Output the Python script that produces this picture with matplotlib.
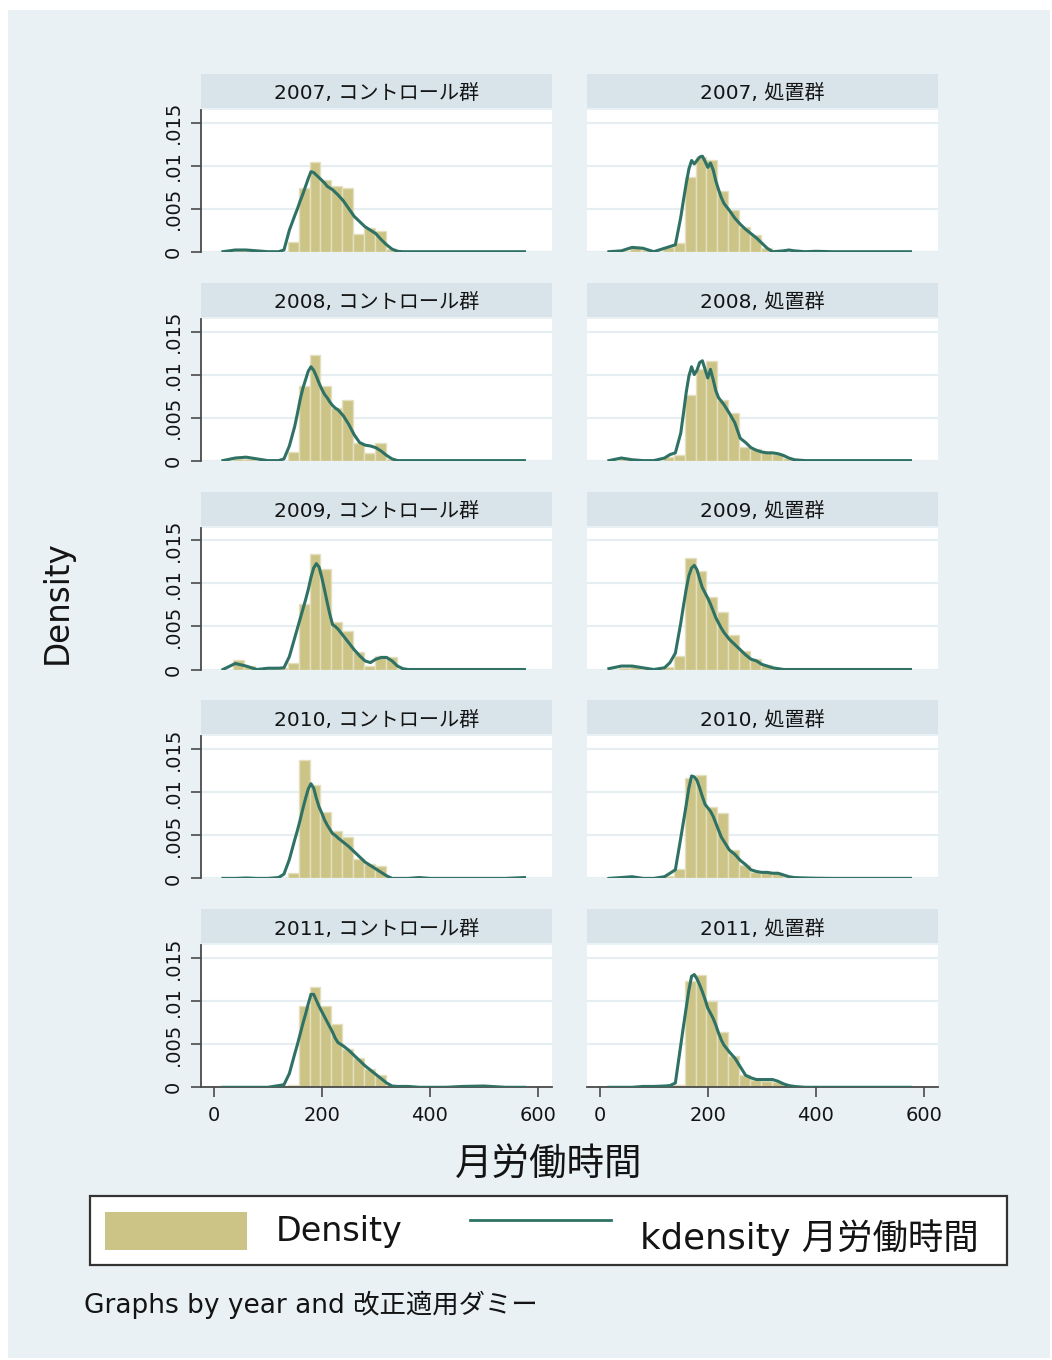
import numpy as np
import matplotlib
matplotlib.use("Agg")
import matplotlib.pyplot as plt
from matplotlib.patches import Rectangle
from matplotlib.lines import Line2D

plt.rcParams['font.family'] = ['DejaVu Sans', 'Noto Sans CJK JP']

# ---------------- data ----------------
years = [2007, 2008, 2009, 2010, 2011]
groups = ['コントロール群', '処置群']
x_ticks = [0, 200, 400, 600]
y_ticks = [0, 0.005, 0.01, 0.015]
y_ticklabels = ['0', '.005', '.01', '.015']

bin_start = 15.8      # first histogram bin edge (hours)
bin_width = 20.2      # histogram bin width (hours)
DENSITY_SCALE = 0.001  # all densities below are written in thousandths

# kernel density evaluation points (hours)
kd_x = [17, 40, 60, 80, 100, 120, 130, 140,
        150, 155, 160, 165, 170, 175, 180, 185, 190, 195, 200, 205, 210, 215, 220, 225, 230,
        240, 250, 260, 270, 280, 290, 300, 310, 320, 330, 340, 350, 360,
        380, 400, 430, 460, 500, 540, 575]

kd_2007_ctrl = [0, 0.2, 0.2, 0.1, 0, 0, 0.2, 2.5,
                4.2, 5.0, 5.9, 6.7, 7.6, 8.5, 9.3, 9.2, 8.9, 8.6, 8.3, 8.0, 7.6, 7.4, 7.2, 6.9, 6.6,
                5.9, 5.0, 4.1, 3.5, 2.9, 2.5, 2.1, 1.4, 0.8, 0.3, 0.05, 0, 0,
                0, 0, 0, 0, 0, 0, 0]
kd_2007_trt = [0, 0.1, 0.5, 0.4, 0, 0.4, 0.6, 0.8,
               4.0, 6.0, 7.9, 9.6, 10.6, 10.2, 10.6, 11.0, 11.1, 10.5, 9.8, 10.3, 9.5, 8.2, 7.2, 6.3, 5.6,
               4.8, 3.9, 3.2, 2.6, 2.1, 1.6, 1.0, 0.4, 0, 0.05, 0.1, 0.2, 0.1,
               0, 0.05, 0, 0, 0, 0, 0]
kd_2008_ctrl = [0, 0.3, 0.4, 0.2, 0, 0, 0.2, 1.7,
                4.0, 5.5, 7.1, 8.4, 9.4, 10.4, 10.9, 10.5, 9.8, 9.0, 8.3, 7.7, 7.3, 6.8, 6.4, 6.1, 5.9,
                5.2, 4.2, 3.0, 2.1, 1.8, 1.7, 1.5, 1.1, 0.6, 0.2, 0, 0, 0,
                0, 0, 0, 0, 0, 0, 0]
kd_2008_trt = [0, 0.3, 0.1, 0, 0, 0.3, 0.7, 0.9,
               3.2, 5.5, 7.9, 9.8, 10.9, 10.0, 10.5, 11.4, 11.6, 10.6, 9.6, 10.6, 9.4, 8.1, 7.3, 6.9, 6.5,
               5.5, 4.4, 2.6, 2.1, 1.5, 1.2, 1.0, 0.9, 0.9, 0.8, 0.6, 0.3, 0.1,
               0, 0, 0, 0, 0, 0, 0]
kd_2009_ctrl = [0, 0.7, 0.4, 0, 0.15, 0.15, 0.2, 1.5,
                3.7, 4.8, 5.9, 7.0, 8.1, 9.3, 10.7, 11.8, 12.3, 11.9, 10.7, 9.3, 7.8, 6.4, 5.2, 5.0, 4.7,
                3.9, 3.1, 2.3, 1.6, 1.0, 0.8, 1.2, 1.4, 1.4, 1.0, 0.4, 0.1, 0,
                0, 0, 0, 0, 0, 0, 0]
kd_2009_trt = [0.1, 0.4, 0.4, 0.2, 0, 0.2, 0.8, 1.9,
               5.4, 7.4, 9.3, 10.9, 11.8, 12.1, 11.6, 10.5, 9.5, 8.9, 8.3, 7.6, 6.8, 6.0, 5.4, 4.8, 4.3,
               3.5, 2.9, 2.3, 1.7, 1.2, 1.0, 0.6, 0.4, 0.2, 0.1, 0, 0, 0,
               0, 0, 0, 0, 0, 0, 0]
kd_2010_ctrl = [0, 0, 0.05, 0, 0, 0.1, 0.5, 2.2,
                4.5, 5.6, 6.8, 8.1, 9.3, 10.4, 11.0, 10.5, 9.3, 8.3, 7.6, 6.8, 6.2, 5.7, 5.2, 5.0, 4.7,
                4.2, 3.7, 3.1, 2.5, 1.9, 1.5, 1.1, 0.7, 0.3, 0, 0, 0, 0,
                0.1, 0, 0, 0, 0, 0, 0.1]
kd_2010_trt = [0, 0.1, 0.2, 0, 0, 0.2, 0.6, 1.0,
               4.7, 6.6, 8.5, 10.5, 11.9, 11.8, 11.4, 10.5, 9.5, 8.6, 8.2, 7.8, 7.2, 6.4, 5.6, 4.8, 4.3,
               3.3, 2.8, 2.1, 1.6, 1.0, 0.8, 0.7, 0.7, 0.6, 0.6, 0.4, 0.2, 0.1,
               0.05, 0.02, 0, 0, 0, 0, 0]
kd_2011_ctrl = [0, 0, 0, 0, 0, 0.2, 0.3, 1.6,
                3.9, 5.0, 6.2, 7.4, 8.5, 9.7, 10.8, 10.8, 10.1, 9.4, 8.8, 8.2, 7.6, 7.0, 6.4, 5.7, 5.2,
                4.8, 4.3, 3.7, 3.1, 2.5, 2.0, 1.5, 1.0, 0.5, 0.15, 0.1, 0.1, 0.1,
                0, 0, 0, 0.1, 0.15, 0, 0]
kd_2011_trt = [0, 0, 0, 0.1, 0.1, 0.15, 0.2, 0.5,
               4.9, 7.1, 9.2, 11.3, 12.9, 13.1, 12.6, 11.9, 11.1, 10.2, 9.2, 8.6, 8.0, 7.2, 6.3, 5.5, 4.9,
               4.1, 3.4, 2.4, 1.4, 1.1, 0.9, 0.9, 0.9, 0.9, 0.7, 0.4, 0.2, 0.1,
               0, 0, 0, 0, 0, 0, 0]

# histogram heights (28 bins)
hist_2007_ctrl = [0, 0.2, 0.2, 0, 0, 0, 1.1, 7.4, 10.4, 8.3, 7.6, 7.4, 2.1, 2.7, 2.4, 0.3, 0.1,
                  0, 0, 0, 0, 0, 0, 0, 0, 0, 0, 0]
hist_2007_trt = [0, 0.1, 0.4, 0.2, 0, 0.5, 1.0, 8.7, 11.0, 10.6, 7.1, 4.8, 2.9, 1.9, 0.4, 0.1, 0.1, 0.1,
                 0, 0, 0, 0, 0, 0, 0, 0, 0, 0]
hist_2008_ctrl = [0, 0.2, 0.2, 0, 0, 0, 1.0, 8.7, 12.3, 8.7, 6.1, 7.0, 2.1, 0.9, 2.1, 0.2,
                  0, 0, 0, 0, 0, 0, 0, 0, 0, 0, 0, 0]
hist_2008_trt = [0, 0.2, 0.1, 0, 0, 0.4, 0.6, 7.6, 10.7, 11.6, 7.0, 5.5, 1.6, 1.3, 1.0, 0.8, 0.3, 0.1,
                 0, 0, 0, 0, 0, 0, 0, 0, 0, 0]
hist_2009_ctrl = [0, 1.1, 0.4, 0, 0.2, 0.2, 0.8, 7.6, 13.4, 11.7, 5.5, 4.5, 2.0, 0.4, 1.6, 1.5, 0.1,
                  0, 0, 0, 0, 0, 0, 0, 0, 0, 0, 0]
hist_2009_trt = [0, 0.2, 0.3, 0.1, 0, 0.3, 1.6, 13.0, 11.5, 8.4, 6.7, 4.0, 2.1, 1.2, 0.5, 0.2, 0.1,
                 0, 0, 0, 0, 0, 0, 0, 0, 0, 0, 0]
hist_2010_ctrl = [0, 0, 0.05, 0, 0, 0.1, 0.6, 13.8, 10.8, 7.7, 5.5, 4.8, 2.3, 1.7, 1.4, 0.1,
                  0, 0, 0.05, 0, 0, 0, 0, 0, 0, 0, 0, 0.1]
hist_2010_trt = [0, 0.1, 0.2, 0, 0, 0.3, 1.1, 11.7, 12.0, 8.3, 7.6, 3.3, 1.6, 0.7, 0.7, 0.6, 0.2, 0.1,
                 0, 0, 0, 0, 0, 0, 0, 0, 0, 0]
hist_2011_ctrl = [0, 0, 0, 0, 0, 0.2, 0.3, 9.4, 11.7, 9.4, 7.3, 4.4, 3.4, 2.1, 1.4, 0.1, 0.1, 0.1,
                  0, 0, 0, 0, 0, 0.15, 0, 0, 0, 0]
hist_2011_trt = [0, 0, 0, 0.1, 0.1, 0.2, 0.3, 12.3, 13.0, 10.0, 6.4, 3.6, 1.4, 0.9, 0.7, 0.6, 0.2, 0.05,
                 0, 0, 0, 0, 0, 0, 0, 0, 0, 0]

hist_data = [[hist_2007_ctrl, hist_2007_trt], [hist_2008_ctrl, hist_2008_trt],
             [hist_2009_ctrl, hist_2009_trt], [hist_2010_ctrl, hist_2010_trt],
             [hist_2011_ctrl, hist_2011_trt]]
kd_data = [[kd_2007_ctrl, kd_2007_trt], [kd_2008_ctrl, kd_2008_trt],
           [kd_2009_ctrl, kd_2009_trt], [kd_2010_ctrl, kd_2010_trt],
           [kd_2011_ctrl, kd_2011_trt]]

# ---------------- style / layout ----------------
W, H = 1052, 1360
BG = '#e9f1f4'
STRIP = '#d8e4ea'
BAR = '#ccc487'
BAR_EDGE = '#e4e0bf'
KD = '#2f7265'
GRID = '#e6eef1'
AXC = '#4a4a4a'
TXT = '#141414'

fig = plt.figure(figsize=(W / 100, H / 100), dpi=100)
fig.patch.set_facecolor('white')
fig.patches.append(Rectangle((8 / W, 1 - 1358 / H), 1042 / W, 1348 / H,
                             transform=fig.transFigure, facecolor=BG, edgecolor='none', zorder=-10))

def fx(x):
    return x / W

def fy(y):
    return 1 - y / H

col_x0 = [201, 587]
panel_w = 351
panel_h = 142
row_zero = [251.7, 460.6, 669.5, 878.4, 1087.3]
xlim = (-23.5, 626)
ylim = (0, 0.0165)

n_bins = len(hist_2007_ctrl)
edges = bin_start + bin_width * np.arange(n_bins)

for r, yr in enumerate(years):
    for c, grp in enumerate(groups):
        x0 = col_x0[c]
        top = row_zero[r] - panel_h
        ax = fig.add_axes([fx(x0), fy(row_zero[r]), panel_w / W, panel_h / H])
        ax.set_facecolor('white')
        heights = np.array(hist_data[r][c]) * DENSITY_SCALE
        mask = heights > 0
        ax.bar(edges[mask], heights[mask], width=bin_width, align='edge',
               color=BAR, edgecolor=BAR_EDGE, linewidth=1.0, zorder=2)
        ax.plot(kd_x, np.array(kd_data[r][c]) * DENSITY_SCALE, color=KD, lw=2.2,
                zorder=3, solid_joinstyle='round')
        ax.set_xlim(*xlim)
        ax.set_ylim(*ylim)
        ax.set_yticks(y_ticks)
        ax.set_xticks(x_ticks)
        ax.yaxis.grid(True, color=GRID, lw=1.6, zorder=0)
        ax.set_axisbelow(True)
        for s in ['top', 'right']:
            ax.spines[s].set_visible(False)
        # y axis only on left column
        if c == 0:
            ax.spines['left'].set_color(AXC)
            ax.spines['left'].set_linewidth(1.3)
            ax.set_yticklabels(y_ticklabels, rotation=90, va='center', fontsize=14,
                               color=TXT, family=['DejaVu Sans'])
            ax.tick_params(axis='y', length=7, width=1.2, color=AXC, pad=6)
        else:
            ax.spines['left'].set_visible(False)
            ax.tick_params(axis='y', length=0, labelleft=False)
        # x axis only on bottom row
        if r == len(years) - 1:
            ax.spines['bottom'].set_color(AXC)
            ax.spines['bottom'].set_linewidth(1.3)
            ax.set_xticklabels([str(t) for t in x_ticks], fontsize=14, color=TXT,
                               family=['DejaVu Sans'])
            ax.tick_params(axis='x', length=7, width=1.2, color=AXC, pad=6.5)
        else:
            ax.spines['bottom'].set_visible(False)
            ax.tick_params(axis='x', length=0, labelbottom=False)
        # strip
        fig.patches.append(Rectangle((fx(x0), fy(top - 2)), panel_w / W, 34 / H,
                                     transform=fig.transFigure, facecolor=STRIP,
                                     edgecolor='none', zorder=1))
        fig.text(fx(x0 + panel_w / 2), fy(top - 16), f'{yr}, {grp}', ha='center', va='center',
                 fontsize=14.5, color=TXT)

# axis titles
fig.text(fx(57), fy(602), 'Density', rotation=90, ha='center', va='center', fontsize=23.5, color=TXT)
fig.text(fx(549), fy(1165), '月労働時間', ha='center', va='center', fontsize=27, color=TXT)

# legend
fig.patches.append(Rectangle((fx(90), fy(1265)), 917 / W, 69 / H, transform=fig.transFigure,
                             facecolor='white', edgecolor='#333333', linewidth=1.6, zorder=1))
fig.patches.append(Rectangle((fx(105), fy(1250)), 142 / W, 38 / H, transform=fig.transFigure,
                             facecolor=BAR, edgecolor='none', zorder=2))
fig.text(fx(276), fy(1232), 'Density', ha='left', va='center', fontsize=24, color=TXT)
fig.lines.append(Line2D([fx(470), fx(611)], [fy(1220), fy(1220)], transform=fig.transFigure,
                        color=KD, lw=2.0))
fig.text(fx(640), fy(1238), 'kdensity 月労働時間', ha='left', va='center', fontsize=25.5, color=TXT)

# note
fig.text(fx(84), fy(1305), 'Graphs by year and 改正適用ダミー', ha='left', va='center',
         fontsize=19, color=TXT)

fig.savefig('out.png', dpi=100, facecolor=fig.get_facecolor())
